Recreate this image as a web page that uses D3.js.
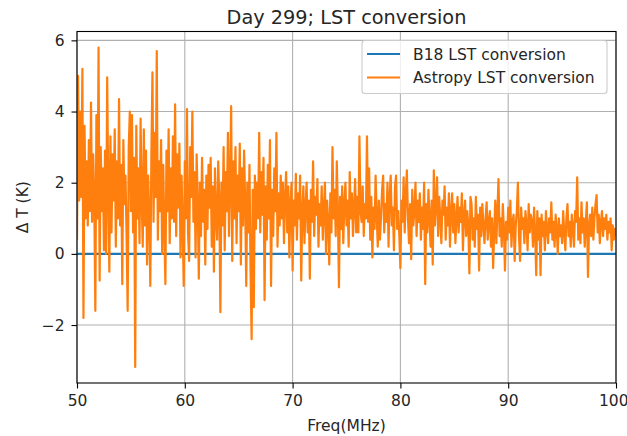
<!DOCTYPE html>
<html>
<head>
<meta charset="utf-8">
<script src="https://cdn.jsdelivr.net/npm/d3@7"></script>
<style>
  html, body { margin: 0; padding: 0; background: #ffffff; }
  svg { display: block; font-family: "DejaVu Sans", sans-serif; }
</style>
</head>
<body>
<svg id="chart" width="627" height="436"></svg>
<script>
// ---------------- data ----------------
const chartTitle = "Day 299; LST conversion";
const xLabel = "Freq(MHz)";
const yLabel = "Δ T (K)";
const seriesNames = ["B18 LST conversion", "Astropy LST conversion"];
const seriesColors = ["#1f77b4", "#ff7f0e"];

const xTicks = [50, 60, 70, 80, 90, 100];
const xTickLabels = ["50", "60", "70", "80", "90", "100"];
const yTicks = [-2, 0, 2, 4, 6];
const yTickLabels = ["\u22122", "0", "2", "4", "6"];
const xLimits = [50, 100];

// B18 conversion: difference is zero everywhere
const b18Freq = [50, 100];
const b18Values = [0, 0];

// Astropy conversion: one value every 0.1 MHz from 50.0 to 100.0
const astropyFreqStart = 50;
const astropyFreqStep = 0.1;
const astropyValues = [
  // 50
  0.4, 5.0, 1.5, 4.0, 1.6, 5.2, -1.8, 3.6, 1.0, 2.6,
  // 51
  0.8, 3.2, 1.2, 4.25, 0.9, 2.8, 1.6, -1.6, 3.9, 1.0,
  // 52
  5.8, -0.75, 3.0, 1.2, 2.4, 0.1, 2.9, 0.0, 4.96, 1.8,
  // 53
  -0.5, 3.3, 0.6, 2.8, 1.5, 3.5, 0.2, 2.6, 1.0, 4.35,
  // 54
  0.8, 2.5, -0.85, 3.2, 1.4, 2.2, 0.5, -1.6, 3.0, 4.0,
  // 55
  1.2, 3.9, 0.6, 2.7, -3.18, 3.6, 1.0, 2.4, 0.3, 3.8,
  // 56
  1.5, 0.2, 3.5, 0.8, 2.9, -0.3, 2.2, 1.1, -0.9, 2.8,
  // 57
  5.1, 0.9, 3.4, 1.6, 5.7, 0.4, 2.6, 1.2, 3.2, 0.0,
  // 58
  2.5, 0.7, -0.85, 2.9, 1.2, 3.5, 0.3, 2.4, 1.0, 3.3,
  // 59
  0.9, 4.2, 0.5, 2.8, 1.3, 3.1, -0.1, 2.2, 0.8, -0.9,
  // 60
  2.6, 1.0, 4.07, 0.6, -0.2, 3.0, 1.6, 4.0, 0.9, 2.3,
  // 61
  -0.1, 2.8, 1.4, -0.7, 2.0, 0.5, 2.7, 0.9, 1.8, -0.3,
  // 62
  2.2, 0.7, 2.5, 1.3, 2.7, 0.2, 1.9, -0.5, 2.4, 1.0,
  // 63
  0.4, 2.6, 1.5, -1.64, 2.0, 0.8, 3.0, 0.1, 2.3, 1.2,
  // 64
  3.4, 0.5, 2.1, 4.15, -0.2, 2.6, 1.0, 3.0, 0.3, 2.2,
  // 65
  1.2, 3.1, -0.3, 2.4, 0.8, 2.9, 1.5, -0.9, 2.0, 0.6,
  // 66
  2.5, -0.5, -2.4, 1.8, -1.5, 2.2, 0.7, 2.0, 1.0, 3.4,
  // 67
  0.6, 2.3, 1.1, 2.7, -1.3, 1.9, 0.4, 2.5, 1.0, 3.2,
  // 68
  -0.9, 1.8, 0.5, 2.4, 1.2, 3.4, 0.2, 1.7, 0.8, 2.2,
  // 69
  1.0, 2.0, 0.3, 1.6, 2.3, 0.6, 1.9, -0.1, 1.4, 2.0,
  // 70
  -0.47, 1.5, 0.8, 2.25, 0.4, 1.7, 1.0, 2.2, -0.75, 1.2,
  // 71
  1.9, 0.3, 1.3, 2.0, 0.6, 1.5, -0.7, 1.8, 0.9, 2.6,
  // 72
  0.5, 1.6, 1.1, 2.1, 0.2, 1.4, 0.8, 1.9, 0.4, 1.2,
  // 73
  2.0, 0.0, 1.5, 0.9, -0.3, 1.7, 0.6, 3.0, 1.0, 1.8,
  // 74
  0.5, 2.6, 1.2, -0.94, 1.6, 0.7, 1.9, 0.3, 1.4, 2.0,
  // 75
  0.8, 1.5, 0.2, 2.3, 1.0, 1.7, 0.5, 1.3, 2.1, 0.6,
  // 76
  1.6, 0.6, 3.3, 1.2, 0.9, 1.9, 0.5, 1.4, 1.0, 3.3,
  // 77
  0.9, 2.4, 0.4, 1.6, -0.1, 1.3, 0.7, 2.2, 1.1, 0.2,
  // 78
  1.5, 0.4, 1.0, 1.8, 2.2, 0.6, 1.4, 0.9, 2.0, 0.2,
  // 79
  1.6, 2.2, 0.8, 1.3, 0.1, 1.9, 2.2, 0.7, 1.2, 0.5,
  // 80
  -0.4, 1.5, 0.9, 2.15, 0.6, 1.7, 2.35, 1.0, 0.3, 1.4,
  // 81
  -0.15, 1.8, 0.8, 1.2, 2.0, 0.5, 1.5, 0.9, 1.7, 0.4,
  // 82
  1.3, 0.7, 2.0, -0.85, 1.4, 0.6, 1.8, 1.0, 0.2, 1.5,
  // 83
  -0.3, 2.35, 0.8, 1.4, 2.15, 0.5, 1.6, 1.0, 0.3, 1.5,
  // 84
  1.1, 1.9, 0.4, 1.3, 0.8, 1.7, 0.2, 1.2, 1.7, 0.6,
  // 85
  1.4, 0.3, 1.0, 1.6, 0.6, 1.3, 0.9, 1.7, 0.1, 1.1,
  // 86
  1.5, 0.5, 1.2, 0.8, -0.55, 1.6, 1.4, 0.4, 1.0, 0.2,
  // 87
  1.6, 0.7, 1.1, -0.47, 1.3, 0.5, 1.4, 0.8, 0.3, 1.0,
  // 88
  1.45, 0.4, 0.9, 1.2, 0.2, 1.0, -0.4, 0.6, 1.5, 0.3,
  // 89
  1.2, 2.1, 0.5, 1.0, 0.2, 1.4, 0.7, -0.47, 0.9, 0.4,
  // 90
  1.3, 0.6, 1.5, 0.2, 0.9, 1.1, -0.2, 0.8, 1.2, 2.0,
  // 91
  0.5, -0.2, 1.3, 0.7, 1.0, 0.3, 1.2, 0.8, 0.1, 1.4,
  // 92
  0.6, 1.1, 0.9, 0.2, 1.3, 0.6, -0.6, 1.2, 0.4, 1.0,
  // 93
  -0.6, 1.1, 0.5, 0.9, 0.1, 1.2, 0.7, 0.3, 1.0, 0.6,
  // 94
  1.45, 0.4, 0.9, 0.2, 1.1, 0.7, 0.0, 1.0, 0.5, 0.8,
  // 95
  0.3, 1.2, 0.6, 0.1, 1.0, 1.4, 0.5, 0.9, 0.2, 1.1,
  // 96
  0.7, 0.2, 1.2, 0.9, 2.15, 0.4, 1.0, 0.3, 1.45, 0.6,
  // 97
  1.0, 0.2, 0.9, 1.45, -0.65, 0.8, 1.1, 0.5, 1.3, 0.4,
  // 98
  1.0, 1.4, 1.65, 0.6, 1.1, 0.3, 0.9, 1.2, 0.5, 1.0,
  // 99
  0.7, 1.1, 0.4, 0.9, 0.6, 1.0, 0.1, 0.8, 0.4, 0.7,
  // 100
  0.5
];

// ---------------- layout ----------------
const W = 627, H = 436;
const margin = { left: 77, right: 11, top: 31.5, bottom: 53 };
const pw = W - margin.left - margin.right;
const ph = H - margin.top - margin.bottom;

const astropy = astropyValues.map((v, i) => ({ x: astropyFreqStart + i * astropyFreqStep, y: v }));
const b18 = b18Freq.map((f, i) => ({ x: f, y: b18Values[i] }));

const [ymin, ymax] = d3.extent(astropyValues.concat(b18Values));
const pad = (ymax - ymin) * 0.05;

const x = d3.scaleLinear().domain(xLimits).range([0, pw]);
const y = d3.scaleLinear().domain([ymin - pad, ymax + pad]).range([ph, 0]);

const svg = d3.select("#chart");
svg.append("rect").attr("width", W).attr("height", H).attr("fill", "#ffffff");

const g = svg.append("g").attr("transform", `translate(${margin.left},${margin.top})`);

// grid
g.append("g").selectAll("line").data(xTicks).join("line")
  .attr("x1", d => x(d)).attr("x2", d => x(d)).attr("y1", 0).attr("y2", ph)
  .attr("stroke", "#b0b0b0").attr("stroke-width", 1.1);
g.append("g").selectAll("line").data(yTicks).join("line")
  .attr("y1", d => y(d)).attr("y2", d => y(d)).attr("x1", 0).attr("x2", pw)
  .attr("stroke", "#b0b0b0").attr("stroke-width", 1.1);

// clip
svg.append("defs").append("clipPath").attr("id", "clip")
  .append("rect").attr("width", pw).attr("height", ph);

const line = d3.line().x(d => x(d.x)).y(d => y(d.y));
const plot = g.append("g").attr("clip-path", "url(#clip)");
plot.append("path").datum(b18).attr("d", line)
  .attr("fill", "none").attr("stroke", seriesColors[0]).attr("stroke-width", 2.2);
plot.append("path").datum(astropy).attr("d", line)
  .attr("fill", "none").attr("stroke", seriesColors[1]).attr("stroke-width", 2.2)
  .attr("stroke-linejoin", "round");

// axes
const xAxis = d3.axisBottom(x).tickValues(xTicks).tickFormat((d, i) => xTickLabels[i])
  .tickSizeInner(5.5).tickSizeOuter(0).tickPadding(6.5);
const yAxis = d3.axisLeft(y).tickValues(yTicks).tickFormat((d, i) => yTickLabels[i])
  .tickSizeInner(5.5).tickSizeOuter(0).tickPadding(7);

const gx = g.append("g").attr("transform", `translate(0,${ph})`).call(xAxis);
const gy = g.append("g").call(yAxis);
[gx, gy].forEach(a => {
  a.select(".domain").remove();
  a.selectAll(".tick line").attr("stroke", "#000").attr("stroke-width", 1.1);
  a.selectAll(".tick text").attr("fill", "#262626").style("font-size", "15.5px")
    .style("font-family", "DejaVu Sans, sans-serif");
});
// keep the last x tick label inside the picture
gx.selectAll(".tick text").filter((d, i, n) => i === n.length - 1)
  .attr("text-anchor", "end").attr("dx", "12px");

// frame
g.append("rect").attr("width", pw).attr("height", ph)
  .attr("fill", "none").attr("stroke", "#000").attr("stroke-width", 1.1);

// labels
svg.append("text").attr("x", margin.left + pw / 2).attr("y", 24)
  .attr("text-anchor", "middle").style("font-size", "19.3px").attr("fill", "#262626")
  .text(chartTitle);
svg.append("text").attr("x", margin.left + pw / 2).attr("y", 431)
  .attr("text-anchor", "middle").style("font-size", "15.5px").attr("fill", "#262626")
  .text(xLabel);
svg.append("text").attr("transform", `translate(28,${margin.top + ph / 2}) rotate(-90)`)
  .attr("text-anchor", "middle").style("font-size", "15.5px").attr("fill", "#262626")
  .text(yLabel);

// legend
const lg = svg.append("g");
const lx0 = 362, ly0 = 40.5, lw = 245, lh = 53;
lg.append("rect").attr("x", lx0).attr("y", ly0).attr("width", lw).attr("height", lh)
  .attr("rx", 3).attr("fill", "#ffffff").attr("fill-opacity", 0.8)
  .attr("stroke", "#cccccc").attr("stroke-width", 1.1);
seriesNames.forEach((name, i) => {
  const yy = ly0 + 13.5 + i * 23.5;
  lg.append("line").attr("x1", lx0 + 5).attr("x2", lx0 + 38).attr("y1", yy).attr("y2", yy)
    .attr("stroke", seriesColors[i]).attr("stroke-width", 2.2);
  lg.append("text").attr("x", lx0 + 51).attr("y", yy).attr("dy", "0.36em")
    .style("font-size", "15.5px").attr("fill", "#262626").text(name);
});
</script>
</body>
</html>
